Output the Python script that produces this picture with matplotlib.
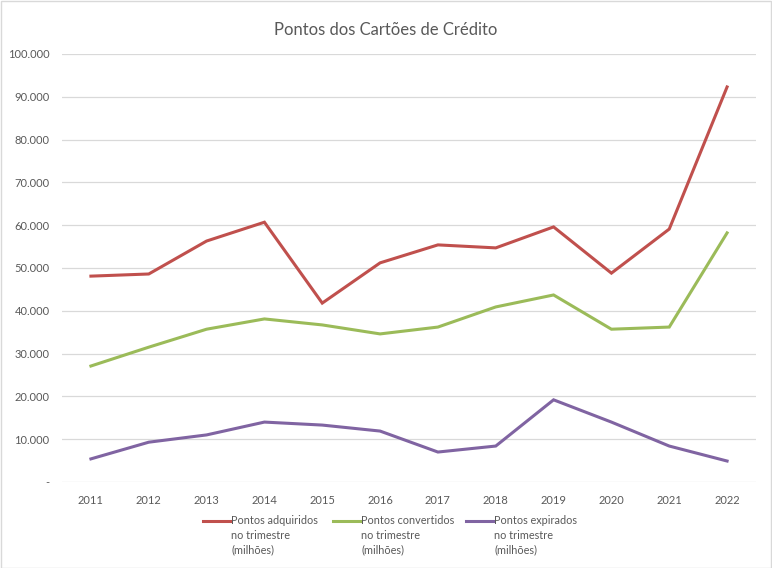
import matplotlib
matplotlib.use("Agg")
import matplotlib.pyplot as plt
from matplotlib.lines import Line2D
from matplotlib.patches import Rectangle
from matplotlib.ticker import FuncFormatter

plt.rcParams["font.family"] = ["Lato", "DejaVu Sans"]

anos = ["2011", "2012", "2013", "2014", "2015", "2016",
        "2017", "2018", "2019", "2020", "2021", "2022"]
adquiridos = [48100, 48600, 56300, 60700, 41800, 51200,
              55400, 54700, 59600, 48800, 59100, 92300]
convertidos = [27100, 31500, 35700, 38100, 36700, 34600,
               36200, 40900, 43700, 35700, 36200, 58200]
expirados = [5400, 9300, 11000, 14000, 13300, 11900,
             7000, 8400, 19200, 14000, 8400, 4900]
rotulos = ["Pontos adquiridos\nno trimestre\n(milhões)",
           "Pontos convertidos\nno trimestre\n(milhões)",
           "Pontos expirados\nno trimestre\n(milhões)"]
cores = ["#C0504D", "#9BBB59", "#8064A2"]
titulo = "Pontos dos Cartões de Crédito"

W, H = 772, 568
fig = plt.figure(figsize=(W / 100, H / 100), dpi=100)
ax = fig.add_axes([62 / W, 1 - 482 / H, (756 - 62) / W, (482 - 54) / H])

x = range(len(anos))
for serie, cor in zip((adquiridos, convertidos, expirados), cores):
    ax.plot(x, serie, color=cor, lw=2.2, solid_joinstyle="miter")

ax.set_xlim(-0.5, len(anos) - 0.5)
ax.set_ylim(0, 100000)
ax.set_yticks(range(0, 100001, 10000))
ax.yaxis.set_major_formatter(FuncFormatter(
    lambda v, p: "-" if v == 0 else f"{int(v):,}".replace(",", ".")))
ax.set_xticks(list(x))
ax.set_xticklabels(anos)
ax.grid(axis="y", color="#D9D9D9", lw=0.9)
ax.set_axisbelow(True)
for s in ax.spines.values():
    s.set_visible(False)
ax.tick_params(length=0, labelsize=8, colors="#595959", pad=9)
ax.tick_params(axis="x", pad=9)

fig.text(386 / W, 1 - 30 / H, titulo, ha="center", va="center",
         fontsize=12, color="#595959")

# legenda manual, com a linha alinhada à primeira linha do texto
for (x0, rot, cor) in zip((203, 333, 466), rotulos, cores):
    fig.add_artist(Line2D([x0 / W, (x0 + 27) / W], [1 - 521 / H] * 2,
                          color=cor, lw=2.2, transform=fig.transFigure))
    fig.text((x0 + 28) / W, 1 - 515 / H, rot, ha="left", va="top",
             fontsize=7.8, color="#595959", linespacing=1.42)

fig.add_artist(Rectangle((0.5 / W, 0.5 / H), 1 - 1.5 / W, 1 - 1.5 / H,
                         transform=fig.transFigure, fill=False,
                         edgecolor="#D9D9D9", lw=1))

fig.savefig("out.png", dpi=100)
